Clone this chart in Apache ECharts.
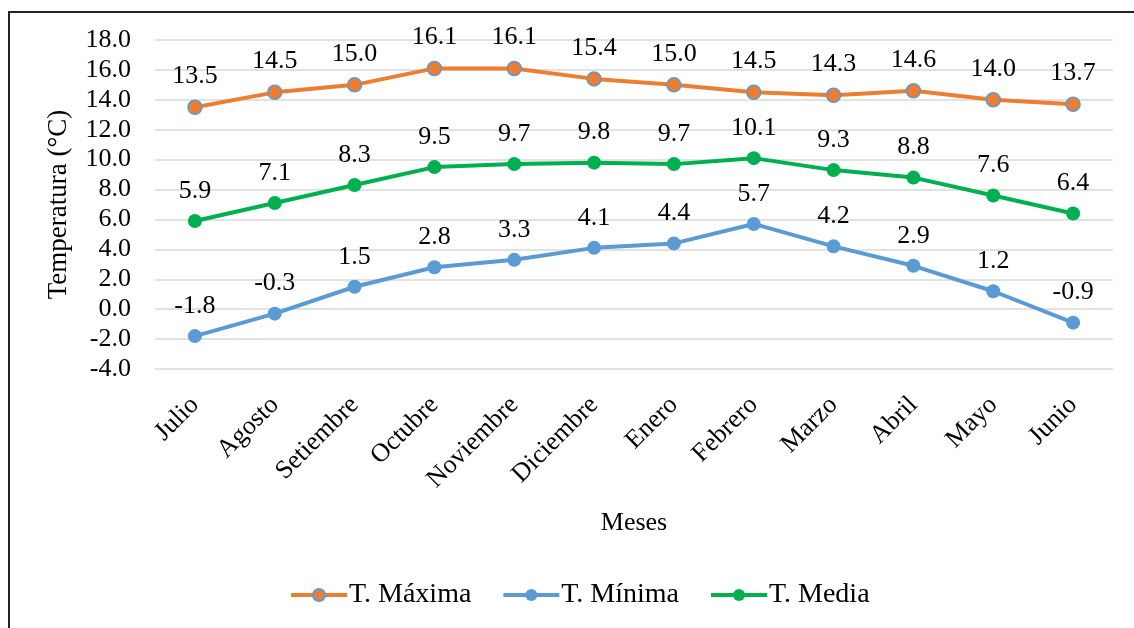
<!DOCTYPE html>
<html>
<head>
<meta charset="utf-8">
<script src="https://cdn.jsdelivr.net/npm/echarts@6/dist/echarts.min.js"></script>
<style>
html,body{margin:0;padding:0;background:#fff;}
#c{width:1134px;height:628px;position:relative;}
#frame{position:absolute;left:8px;top:11px;width:1140px;height:640px;border-left:2px solid #222;border-top:2px solid #222;pointer-events:none;}
</style>
</head>
<body>
<div id="c"></div>
<div id="frame"></div>
<script>
var categories = ['Julio','Agosto','Setiembre','Octubre','Noviembre','Diciembre','Enero','Febrero','Marzo','Abril','Mayo','Junio'];
var tMax = [13.5,14.5,15.0,16.1,16.1,15.4,15.0,14.5,14.3,14.6,14.0,13.7];
var tMin = [-1.8,-0.3,1.5,2.8,3.3,4.1,4.4,5.7,4.2,2.9,1.2,-0.9];
var tMed = [5.9,7.1,8.3,9.5,9.7,9.8,9.7,10.1,9.3,8.8,7.6,6.4];
var yMin = -4, yMax = 18, yStep = 2;

var font = 'Liberation Serif';
var chart = echarts.init(document.getElementById('c'));
function lbl(){
  return {show:true, position:'top', distance:10, fontFamily:font, fontSize:26, color:'#000',
    formatter:function(p){return p.value.toFixed(1);}};
}
chart.setOption({
  animation:false,
  textStyle:{fontFamily:font},
  grid:{left:155,right:21,top:40,bottom:259},
  legend:{
    bottom:14, left:284, itemWidth:56, itemHeight:15, itemGap:30,
    lineStyle:{width:4},
    textStyle:{fontFamily:font,fontSize:28,color:'#000',padding:[0,0,0,-3]},
    data:['T. Máxima','T. Mínima','T. Media']
  },
  xAxis:{
    type:'category', data:categories, boundaryGap:true,
    name:'Meses', nameLocation:'middle', nameGap:141,
    nameTextStyle:{fontFamily:font,fontSize:26,color:'#000'},
    axisLine:{show:false}, axisTick:{show:false},
    axisLabel:{rotate:45, fontFamily:font, fontSize:26, color:'#000', margin:32, interval:0}
  },
  yAxis:{
    type:'value', min:yMin, max:yMax, interval:yStep,
    name:'Temperatura (°C)', nameLocation:'middle', nameGap:83,
    nameTextStyle:{fontFamily:font,fontSize:27,color:'#000'},
    axisLine:{show:false}, axisTick:{show:false},
    axisLabel:{fontFamily:font,fontSize:26,color:'#000',margin:24,
      formatter:function(v){return v.toFixed(1);}},
    splitLine:{lineStyle:{color:'#d9d9d9',width:1.5}}
  },
  series:[
    {name:'T. Máxima', type:'line', data:tMax, symbol:'circle', symbolSize:14,
     lineStyle:{color:'#ED7D31',width:4}, itemStyle:{color:'#ED7D31',borderColor:'#5B9BD5',borderWidth:1.5},
     label:lbl()},
    {name:'T. Mínima', type:'line', data:tMin, symbol:'circle', symbolSize:14,
     lineStyle:{color:'#5B9BD5',width:4}, itemStyle:{color:'#5B9BD5'},
     label:lbl()},
    {name:'T. Media', type:'line', data:tMed, symbol:'circle', symbolSize:14,
     lineStyle:{color:'#00B050',width:4}, itemStyle:{color:'#00B050'},
     label:lbl()}
  ]
});
</script>
</body>
</html>
